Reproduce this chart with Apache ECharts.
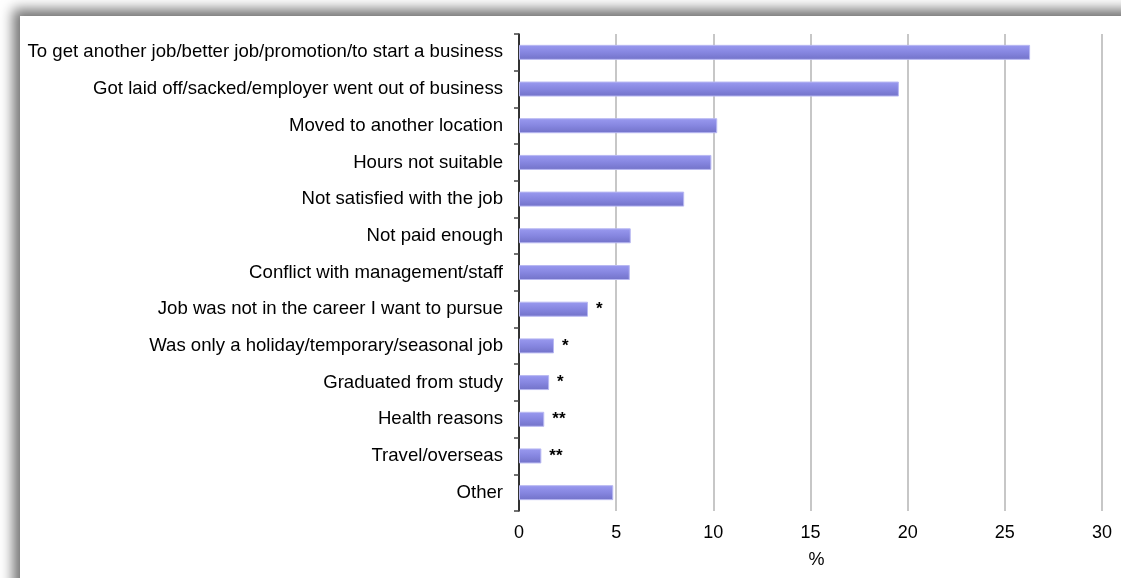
<!DOCTYPE html>
<html>
<head>
<meta charset="utf-8">
<script src="https://cdn.jsdelivr.net/npm/echarts@6/dist/echarts.min.js"></script>
<style>
  html, body { margin: 0; padding: 0; background: #ffffff; }
  #chart { width: 1121px; height: 578px; }
</style>
</head>
<body>
<div id="chart"></div>
<script>
// Reasons for leaving last job (percent of respondents)
const categories = [
  'To get another job/better job/promotion/to start a business',
  'Got laid off/sacked/employer went out of business',
  'Moved to another location',
  'Hours not suitable',
  'Not satisfied with the job',
  'Not paid enough',
  'Conflict with management/staff',
  'Job was not in the career I want to pursue',
  'Was only a holiday/temporary/seasonal job',
  'Graduated from study',
  'Health reasons',
  'Travel/overseas',
  'Other'
];
const percentages = [26.3, 19.55, 10.2, 9.9, 8.5, 5.75, 5.7, 3.55, 1.8, 1.55, 1.3, 1.15, 4.85];
// Reliability markers shown beside estimates with high sampling error
const reliabilityNotes = ['', '', '', '', '', '', '', '*', '*', '*', '**', '**', ''];
const xTicks = [0, 5, 10, 15, 20, 25, 30];
const xAxisTitle = '%';

const chart = echarts.init(document.getElementById('chart'), null, { renderer: 'canvas' });

const barFill = new echarts.graphic.LinearGradient(0, 0, 0, 1, [
  { offset: 0, color: '#9a9af0' },
  { offset: 0.5, color: '#8686e0' },
  { offset: 1, color: '#7272c8' }
]);

const font = 'Liberation Sans, Arial, sans-serif';

chart.setOption({
  animation: false,
  backgroundColor: '#ffffff',
  graphic: [{
    type: 'rect',
    z: -10,
    shape: { x: 20, y: 16, width: 1300, height: 800 },
    style: {
      fill: '#ffffff',
      shadowBlur: 12,
      shadowOffsetX: -7,
      shadowOffsetY: -7,
      shadowColor: 'rgba(0,0,0,0.55)'
    },
    silent: true
  }],
  grid: { left: 519, right: 19, top: 34, bottom: 67, containLabel: false },
  xAxis: {
    type: 'value',
    min: xTicks[0],
    max: xTicks[xTicks.length - 1],
    interval: 5,
    name: xAxisTitle,
    nameLocation: 'middle',
    nameGap: 40,
    nameTextStyle: { fontFamily: font, fontSize: 18, color: '#000', padding: [0, 0, 0, 12] },
    axisLine: { show: false },
    axisTick: { show: false },
    axisLabel: {
      margin: 13,
      fontFamily: font,
      fontSize: 18,
      color: '#000'
    },
    splitLine: { show: true, lineStyle: { color: '#b4b4b4', width: 1.5 } }
  },
  yAxis: {
    type: 'category',
    data: categories,
    inverse: true,
    axisLine: { show: true, lineStyle: { color: '#000', width: 1.5 } },
    axisTick: { show: true, inside: false, length: 5, lineStyle: { color: '#444', width: 1.5 } },
    axisLabel: {
      margin: 16,
      fontFamily: font,
      fontSize: 18.6,
      color: '#000'
    },
    splitLine: { show: false }
  },
  series: [{
    type: 'bar',
    data: percentages,
    barWidth: 15,
    itemStyle: {
      color: barFill,
      borderColor: '#b8b8f2',
      borderWidth: 1
    },
    label: {
      show: true,
      position: 'right',
      distance: 8,
      fontFamily: font,
      fontSize: 17,
      fontWeight: 'bold',
      color: '#000',
      formatter: p => reliabilityNotes[p.dataIndex]
    }
  }]
});
</script>
</body>
</html>
